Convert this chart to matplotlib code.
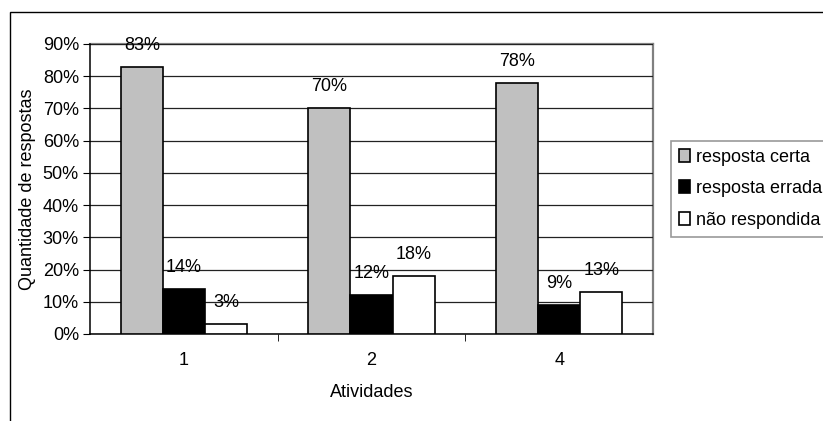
import matplotlib
matplotlib.use("Agg")
from matplotlib import pyplot as plt
from matplotlib.patches import Rectangle
from matplotlib.ticker import MultipleLocator, PercentFormatter
import numpy as np

# respostas por atividade
atividades = ["1", "2", "4"]
certa = [0.83, 0.70, 0.78]
errada = [0.14, 0.12, 0.09]
nao_resp = [0.03, 0.18, 0.13]
series = ["resposta certa", "resposta errada", "não respondida"]
cores = ["#c0c0c0", "#000000", "#ffffff"]

plt.rcParams["font.family"] = ["Liberation Sans", "DejaVu Sans"]
plt.rcParams["font.size"] = 13

fig = plt.figure(figsize=(8.23, 4.21), dpi=100)
ax = fig.add_axes([90 / 823, 1 - 334 / 421, 563 / 823, 290 / 421])

# moldura externa do grafico
fig.patches.append(Rectangle((9.5 / 823, -0.1), 1.2, 1 - 12 / 421 + 0.1,
                             transform=fig.transFigure, fill=False,
                             edgecolor="black", linewidth=1.0))

x = np.arange(len(atividades))
w = 0.224
for i, (vals, nome, cor) in enumerate(zip([certa, errada, nao_resp], series, cores)):
    pos = x + (i - 1) * w
    ax.bar(pos, vals, w, color=cor, edgecolor="black", linewidth=1.2,
           label=nome, zorder=3)
    for xp, v in zip(pos, vals):
        ax.annotate(f"{v:.0%}", (xp, v), xytext=(0, 15.5),
                    textcoords="offset points", ha="center", va="center",
                    zorder=4)

ax.set_xlim(-0.5, 2.5)
ax.set_ylim(0, 0.9)
ax.yaxis.set_major_locator(MultipleLocator(0.1))
ax.yaxis.set_major_formatter(PercentFormatter(1.0, decimals=0))
ax.set_xticks(x)
ax.set_xticklabels(atividades)
ax.set_xticks([0.5, 1.5], minor=True)
ax.tick_params(axis="x", which="major", length=0, pad=13)
ax.tick_params(axis="x", which="minor", length=5, direction="out", color="black")
ax.tick_params(axis="y", length=5, direction="out", pad=3)

ax.grid(axis="y", color="#222222", linewidth=0.9, zorder=0)
for lado in ["top", "right"]:
    ax.spines[lado].set_color("#808080")
    ax.spines[lado].set_linewidth(1.6)
    ax.spines[lado].set_zorder(1)
ax.spines["left"].set_color("black")
ax.spines["bottom"].set_color("black")
ax.spines["left"].set_linewidth(1.1)
ax.spines["bottom"].set_linewidth(1.1)

ax.set_xlabel("Atividades", labelpad=11)
ax.set_ylabel("Quantidade de respostas", labelpad=5)

leg = ax.legend(loc="upper left", bbox_to_anchor=(670.7 / 823, 1 - 140.5 / 421),
                bbox_transform=fig.transFigure, fancybox=False, frameon=True,
                edgecolor="#808080", handlelength=0.6, handleheight=0.75,
                handletextpad=0.35, labelspacing=0.8, borderpad=0.45,
                borderaxespad=0)
leg.get_frame().set_linewidth(1.2)

fig.savefig("out.png", dpi=100)
